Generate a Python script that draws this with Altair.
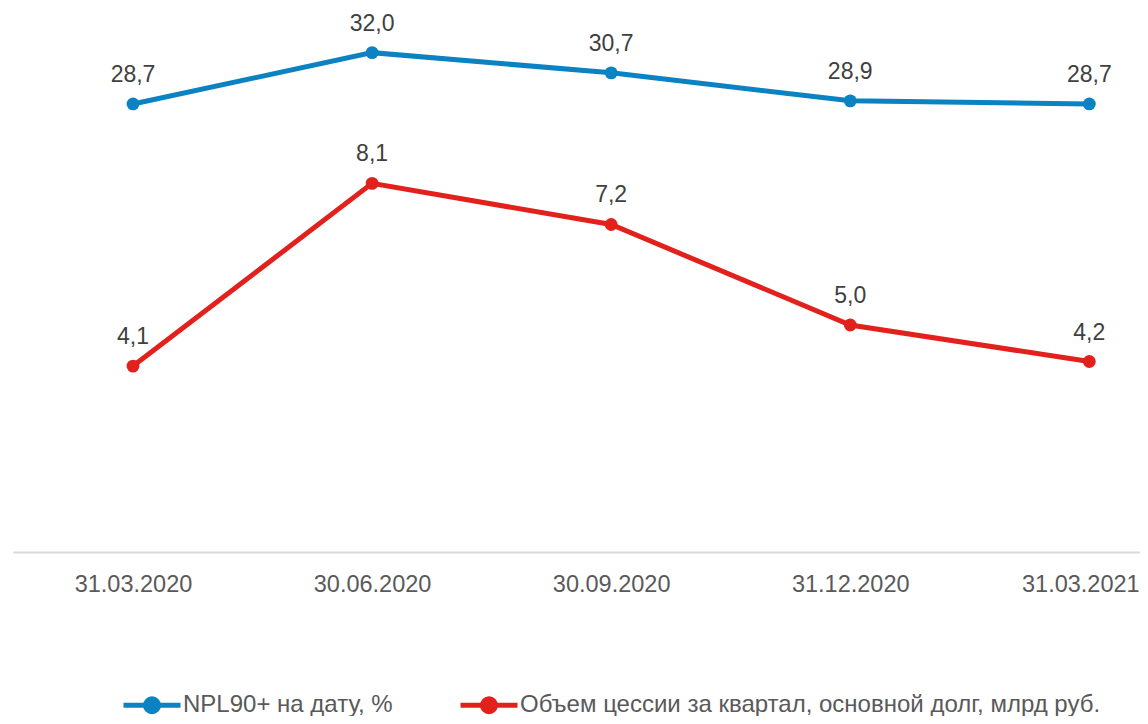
import altair as alt
import pandas as pd

dates = ["31.03.2020", "30.06.2020", "30.09.2020", "31.12.2020", "31.03.2021"]
npl = [28.7, 32.0, 30.7, 28.9, 28.7]
cession = [4.1, 8.1, 7.2, 5.0, 4.2]
series_names = ["NPL90+ на дату, %", "Объем цессии за квартал, основной долг, млрд руб."]
colors = ["#0b82c2", "#e3211c"]

df = pd.DataFrame({"idx": list(range(len(dates))), "date": dates, "npl": npl, "cess": cession})

label_expr = "[" + ",".join(f"'{d}'" for d in dates) + "][datum.value]"
last_idx = len(dates) - 1

FONT = "Liberation Sans"

x_enc = alt.X(
    "idx:Q",
    scale=alt.Scale(domain=[-0.502, 4.212], nice=False, zero=False),
    axis=alt.Axis(
        values=list(range(len(dates))),
        labelExpr=label_expr,
        title=None,
        grid=False,
        ticks=False,
        domainColor="#d9d9d9",
        domainWidth=2,
        labelFontSize=23.5,
        labelColor="#595959",
        labelFont=FONT,
        labelPadding=20,
        labelOffset={"condition": {"test": f"datum.value == {last_idx}", "value": -9}, "value": 0},
    ),
)

legend = alt.Legend(
    title=None,
    orient="none",
    direction="horizontal",
    legendX=108,
    legendY=661,
    symbolType="M-1,0L1,0M0.228,0A0.228,0.228,0,1,1,-0.228,0A0.228,0.228,0,1,1,0.228,0Z",
    symbolSize=3249,
    symbolStrokeWidth=5,
    symbolOpacity=1,
    labelFontSize=24,
    labelFont=FONT,
    labelColor="#595959",
    labelOffset=0,
    columnPadding=57,
    labelLimit=1000,
)


def series_layer(field, name, domain):
    base = (
        alt.Chart(df)
        .transform_calculate(series=f"'{name}'")
        .encode(
            x=x_enc,
            y=alt.Y(f"{field}:Q", scale=alt.Scale(domain=domain, nice=False, zero=False), axis=None),
        )
    )
    line = base.mark_line(strokeWidth=5).encode(
        stroke=alt.Stroke("series:N", scale=alt.Scale(domain=series_names, range=colors), legend=legend)
    )
    pts = base.mark_point(size=165, opacity=1, filled=True, strokeWidth=0).encode(
        fill=alt.Fill("series:N", scale=alt.Scale(domain=series_names, range=colors), legend=legend)
    )
    txt = base.transform_calculate(
        lbl=f"replace(format(datum.{field}, '.1f'), '.', ',')"
    ).mark_text(dy=-22, baseline="alphabetic", fontSize=23, font=FONT, color="#404040").encode(
        text="lbl:N"
    )
    return alt.layer(line, pts, txt)


blue = series_layer("npl", series_names[0], [-0.12, 34.55])
red = series_layer("cess", series_names[1], [0.03, 11.83])

chart = (
    alt.layer(blue, red)
    .resolve_scale(y="independent")
    .properties(
        width=1127,
        height=539,
        autosize=alt.AutoSizeParams(type="none"),
        padding={"left": 5, "top": 5, "right": 0, "bottom": 164},
    )
    .configure_view(stroke=None)
)

chart.save("out.html", embed_options={"renderer": "svg", "actions": False})
